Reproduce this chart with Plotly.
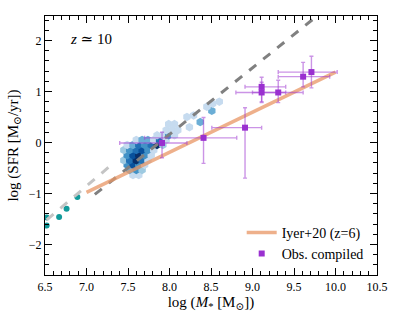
import plotly.graph_objects as go

# ---- data ----
obs_x = [9.11, 9.11, 9.31, 9.61, 9.71, 7.91, 8.41, 8.91]
obs_y = [1.09, 0.98, 0.98, 1.29, 1.38, -0.01, 0.09, 0.29]
obs_xlo = [8.91, 8.80, 9.00, 9.31, 9.31, 7.40, 7.70, 8.51]
obs_xhi = [9.40, 9.40, 9.61, 9.93, 10.02, 8.21, 8.81, 9.11]
obs_ylo = [0.78, 0.80, 0.78, 1.09, 1.07, -0.30, -0.41, -0.70]
obs_yhi = [1.28, 1.18, 1.22, 1.57, 1.69, 0.20, 0.49, 0.68]

teal_x = [6.52, 6.52, 6.67, 6.76, 6.89]
teal_y = [-1.47, -1.63, -1.46, -1.30, -1.07]

iyer_x = [7.0, 10.0]
iyer_y = [-0.98, 1.38]

dash_dark_x = [7.1, 9.8]
dash_dark_y = [-1.02, 2.51]
dash_light_x = [6.52, 7.3]
dash_light_y = [-1.52, -0.44]

hex_x = [7.56, 7.63,
         7.52, 7.60, 7.67,
         7.49, 7.56, 7.63, 7.70,
         7.45, 7.52, 7.60, 7.67, 7.74,
         7.49, 7.56, 7.63, 7.70, 7.78,
         7.45, 7.52, 7.60, 7.67, 7.74, 7.81,
         7.49, 7.56, 7.63, 7.70, 7.78, 7.85, 7.92,
         7.60, 7.67, 7.74, 7.81, 7.88, 7.96,
         7.85, 7.92, 7.99, 8.06,
         7.96, 8.03, 8.10, 8.24,
         7.99, 8.06, 8.37,
         8.21, 8.29,
         8.51,
         8.45, 8.52, 8.60]
hex_y = [-0.64, -0.64,
         -0.54, -0.54, -0.54,
         -0.44, -0.44, -0.44, -0.44,
         -0.35, -0.35, -0.35, -0.35, -0.35,
         -0.25, -0.25, -0.25, -0.25, -0.25,
         -0.15, -0.15, -0.15, -0.15, -0.15, -0.15,
         -0.05, -0.05, -0.05, -0.05, -0.05, -0.05, -0.05,
         0.05, 0.05, 0.05, 0.05, 0.05, 0.05,
         0.14, 0.14, 0.14, 0.14,
         0.24, 0.24, 0.24, 0.30,
         0.36, 0.36, 0.40,
         0.50, 0.53,
         0.62,
         0.70, 0.76, 0.80]
hex_level = [1, 1,
             3, 4, 2,
             4, 6, 4, 1,
             2, 5, 7, 5, 1,
             4, 6, 7, 4, 1,
             2, 4, 5, 6, 4, 1,
             1, 3, 5, 4, 5, 7, 2,
             1, 3, 3, 1, 5, 1,
             1, 1, 4, 1,
             1, 1, 1, 1,
             1, 1, 3,
             1, 1,
             3,
             1, 1, 1]

blues = ["#deebf7", "#c6dbef", "#9ecae1", "#6baed6", "#4292c6",
         "#2171b5", "#08519c", "#08306b"]

x_ticks = [6.5, 7.0, 7.5, 8.0, 8.5, 9.0, 9.5, 10.0, 10.5]
x_ticklabels = ["6.5", "7.0", "7.5", "8.0", "8.5", "9.0", "9.5", "10.0", "10.5"]
y_ticks = [-2, -1, 0, 1, 2]

# ---- figure ----
FONT = "Liberation Serif, Times New Roman, DejaVu Serif, serif"
fig = go.Figure()

fig.add_trace(go.Scatter(
    x=hex_x, y=hex_y, mode="markers", showlegend=False,
    marker=dict(symbol="hexagon", size=8.5, color=[blues[l] for l in hex_level],
                line=dict(width=0))))

fig.add_trace(go.Scatter(
    x=teal_x, y=teal_y, mode="markers", showlegend=False,
    marker=dict(size=6, color="#119a9a")))

fig.add_trace(go.Scatter(
    x=dash_light_x, y=dash_light_y, mode="lines", showlegend=False,
    line=dict(color="#c4c4c4", width=3, dash="dash")))

fig.add_trace(go.Scatter(
    x=dash_dark_x, y=dash_dark_y, mode="lines", showlegend=False,
    line=dict(color="#808080", width=3, dash="dash")))

fig.add_trace(go.Scatter(
    x=iyer_x, y=iyer_y, mode="lines", name="Iyer+20 (z=6)",
    line=dict(color="rgba(232,150,100,0.75)", width=3.5)))

fig.add_trace(go.Scatter(
    x=obs_x, y=obs_y, mode="markers", name="Obs. compiled",
    marker=dict(symbol="square", size=6, color="#9a30d0"),
    error_x=dict(type="data", symmetric=False,
                 array=[h - v for h, v in zip(obs_xhi, obs_x)],
                 arrayminus=[v - l for l, v in zip(obs_xlo, obs_x)],
                 color="rgba(160,60,210,0.55)", thickness=1.4, width=2),
    error_y=dict(type="data", symmetric=False,
                 array=[h - v for h, v in zip(obs_yhi, obs_y)],
                 arrayminus=[v - l for l, v in zip(obs_ylo, obs_y)],
                 color="rgba(160,60,210,0.55)", thickness=1.4, width=2)))

# invisible trace for mirrored top/right axes
fig.add_trace(go.Scatter(x=[6.5], y=[0], xaxis="x2", yaxis="y2",
                         mode="markers", marker=dict(opacity=0),
                         showlegend=False, hoverinfo="skip"))

axis_common = dict(showgrid=False, zeroline=False, showline=True,
                   linecolor="black", linewidth=1.2, ticks="inside",
                   tickcolor="black", tickwidth=1.1, ticklen=7,
                   automargin=False)

fig.update_layout(
    width=395, height=313,
    margin=dict(l=45, r=18, t=16, b=38),
    paper_bgcolor="white", plot_bgcolor="white",
    font=dict(family=FONT, size=12, color="black"),
    xaxis=dict(range=[6.5, 10.5], tickvals=x_ticks, ticktext=x_ticklabels,
               minor=dict(dtick=0.1, ticks="inside", ticklen=3.5,
                          tickcolor="black", tickwidth=1),
               title=dict(text="log (<i>M</i><sub>*</sub> [M<sub>⊙</sub>])",
                          font=dict(size=15), standoff=2),
               tickfont=dict(size=12), **axis_common),
    yaxis=dict(range=[-2.6, 2.48], tickvals=y_ticks,
               minor=dict(dtick=0.2, ticks="inside", ticklen=3.5,
                          tickcolor="black", tickwidth=1),
               title=dict(text="log (SFR [M<sub>⊙</sub>/yr])",
                          font=dict(size=15), standoff=6),
               tickfont=dict(size=12), **axis_common),
    xaxis2=dict(range=[6.5, 10.5], overlaying="x", side="top",
                tickvals=x_ticks, showticklabels=False,
                minor=dict(dtick=0.1, ticks="inside", ticklen=3.5,
                           tickcolor="black", tickwidth=1),
                **axis_common),
    yaxis2=dict(range=[-2.6, 2.48], overlaying="y", side="right",
                tickvals=y_ticks, showticklabels=False,
                minor=dict(dtick=0.2, ticks="inside", ticklen=3.5,
                           tickcolor="black", tickwidth=1),
                **axis_common),
    legend=dict(x=0.975, y=0.02, xanchor="right", yanchor="bottom",
                bgcolor="rgba(0,0,0,0)", font=dict(size=14),
                itemwidth=30, tracegroupgap=2),
    annotations=[dict(x=6.78, y=2.03, xref="x", yref="y", xanchor="left",
                      yanchor="middle", showarrow=False,
                      text="<i>z</i> ≃ 10", font=dict(size=15))],
)

fig.write_html("out.html",
               config={"displayModeBar": False},
               post_script="document.body.style.margin='0';"
                           "document.body.style.padding='0';")
